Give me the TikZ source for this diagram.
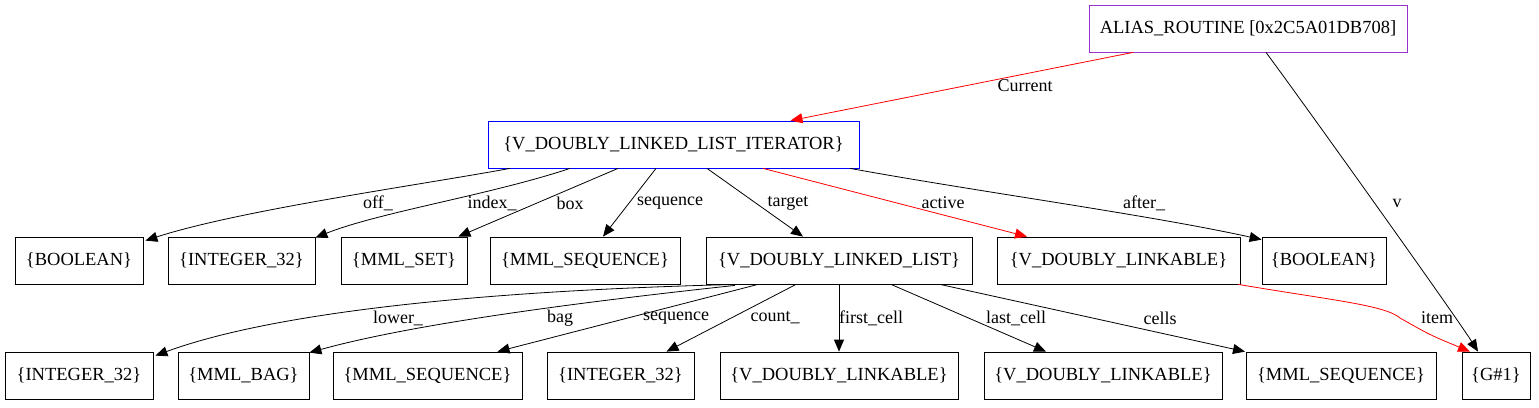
\documentclass[tikz,border=0pt]{standalone}
\usepackage{fontspec}
\setmainfont{Liberation Serif}
\usetikzlibrary{arrows.meta}
\definecolor{orchidc}{HTML}{9932CC}
\begin{document}
\begin{tikzpicture}[x=1pt,y=-1pt,
  box/.style={draw,rectangle,minimum height=47pt,inner sep=0pt,font=\fontsize{18.5}{20}\selectfont,line width=0.8pt},
  lbl/.style={font=\fontsize{18}{20}\selectfont,inner sep=0pt},
  arr/.style={-{Triangle[length=12pt,width=10pt]},line width=0.8pt},
  redarr/.style={arr,red}]
\useasboundingbox (0,0) rectangle (1539,407);
% nodes
\node[box,draw=orchidc,minimum width=318pt] (alias) at (1248,28.5) {ALIAS\_ROUTINE [0x2C5A01DB708]};
\node[box,draw=blue,minimum width=371pt] (iter) at (673.5,144.5) {\{V\_DOUBLY\_LINKED\_LIST\_ITERATOR\}};
\node[box,minimum width=128pt] (boolA) at (79,260.5) {\{BOOLEAN\}};
\node[box,minimum width=147pt] (intA) at (241.5,260.5) {\{INTEGER\_32\}};
\node[box,minimum width=126pt] (mset) at (404,260.5) {\{MML\_SET\}};
\node[box,minimum width=190pt] (mseqA) at (585,260.5) {\{MML\_SEQUENCE\}};
\node[box,minimum width=266pt] (vdll) at (839,260.5) {\{V\_DOUBLY\_LINKED\_LIST\}};
\node[box,minimum width=243pt] (vdlkA) at (1118.5,260.5) {\{V\_DOUBLY\_LINKABLE\}};
\node[box,minimum width=124pt] (boolB) at (1324,260.5) {\{BOOLEAN\}};
\node[box,minimum width=148pt] (intB) at (79,375.5) {\{INTEGER\_32\}};
\node[box,minimum width=131pt] (mbag) at (243.5,375.5) {\{MML\_BAG\}};
\node[box,minimum width=189pt] (mseqB) at (427.5,375.5) {\{MML\_SEQUENCE\}};
\node[box,minimum width=147pt] (intC) at (620.5,375.5) {\{INTEGER\_32\}};
\node[box,minimum width=238pt] (vdlkB) at (839,375.5) {\{V\_DOUBLY\_LINKABLE\}};
\node[box,minimum width=238pt] (vdlkC) at (1103,375.5) {\{V\_DOUBLY\_LINKABLE\}};
\node[box,minimum width=190pt] (mseqC) at (1341,375.5) {\{MML\_SEQUENCE\}};
\node[box,minimum width=68pt] (gone) at (1496,375.5) {\{G\#1\}};
% edges from alias
\draw[redarr] ([xshift=-115pt]alias.south) -- ([xshift=117pt]iter.north);
\node[lbl] (lcur) at (1025,86) {Current};
\draw[arr] ([xshift=18pt]alias.south) .. controls (1305,105) and (1455,315) .. ([xshift=-18pt]gone.north);
\node[lbl] (lv) at (1397,203) {v};
% edges from iterator
\draw[arr] ([xshift=-163.5pt]iter.south) .. controls (420,185) and (240,210) .. ([xshift=2pt,yshift=-4pt]boolA.north east);
\node[lbl] (loff) at (378,203) {off\_};
\draw[arr] ([xshift=-103.5pt]iter.south) .. controls (490,195) and (380,212) .. ([xshift=0pt,yshift=-1pt]intA.north east);
\node[lbl] (lidx) at (492,203) {index\_};
\draw[arr] ([xshift=-55.5pt]iter.south) -- ([xshift=-9pt]mset.north east);
\node[lbl] (lbox) at (570,203) {box};
\draw[arr] ([xshift=-17.5pt]iter.south) -- ([xshift=18pt]mseqA.north);
\node[lbl] (lseqA) at (670,203) {sequence};
\draw[arr] ([xshift=33.5pt]iter.south) -- ([xshift=-36pt]vdll.north);
\node[lbl] (ltgt) at (788,203) {target};
\draw[redarr] ([xshift=89.5pt]iter.south) -- ([xshift=-91.5pt]vdlkA.north);
\node[lbl] (lact) at (943,203) {active};
\draw[arr] ([xshift=176.5pt]iter.south) .. controls (980,192) and (1150,215) .. ([yshift=-3pt]boolB.north west);
\node[lbl] (laft) at (1144,203) {after\_};
% edges from vdll
\draw[arr] ([xshift=-101pt]vdll.south) .. controls (500,290) and (280,310) .. ([xshift=2pt,yshift=-4pt]intB.north east);
\node[lbl] (llow) at (398,318) {lower\_};
\draw[arr] ([xshift=-104pt,yshift=-1pt]vdll.south) .. controls (600,300) and (420,322) .. ([xshift=0pt,yshift=-1pt]mbag.north east);
\node[lbl] (lbag) at (560,318) {bag};
\draw[arr] ([xshift=-81pt]vdll.south) -- ([xshift=70pt]mseqB.north);
\node[lbl] (lseqB) at (676,318) {sequence};
\draw[arr] ([xshift=-43pt]vdll.south) -- ([xshift=46pt]intC.north);
\node[lbl] (lcnt) at (775,318) {count\_};
\draw[arr] (vdll.south) -- (vdlkB.north);
\node[lbl] (lfc) at (871,318) {first\_cell};
\draw[arr] ([xshift=52pt]vdll.south) -- ([xshift=-57pt]vdlkC.north);
\node[lbl] (llc) at (1016,318) {last\_cell};
\draw[arr] ([xshift=101pt]vdll.south) -- ([xshift=-96pt]mseqC.north);
\node[lbl] (lcells) at (1160,318) {cells};
% item
\draw[redarr] ([xshift=-2pt]vdlkA.south east) .. controls (1330,300) and (1385,305) .. (1400,318) .. controls (1430,335) .. ([xshift=-26pt]gone.north);
\node[lbl] (litem) at (1437,318) {item};
\end{tikzpicture}
\end{document}
